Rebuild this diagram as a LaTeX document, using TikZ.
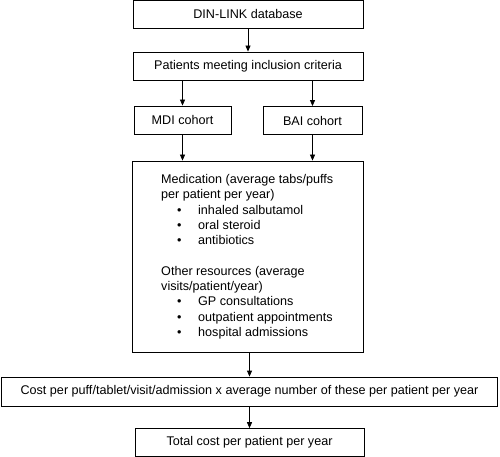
\documentclass[tikz,border=0pt]{standalone}
\usepackage{fontspec}
\setmainfont{Liberation Sans}
\usetikzlibrary{arrows.meta}
\begin{document}
\begin{tikzpicture}[x=1pt,y=-1pt,
  box/.style={draw, line width=0.8pt, inner sep=0pt, font=\fontsize{12.6}{15.3}\selectfont},
  arr/.style={line width=0.8pt, -{Triangle[length=6pt,width=5pt]}},
  txt/.style={inner sep=0pt, align=left, anchor=base west, font=\fontsize{12.6}{15.3}\selectfont}]
\useasboundingbox (0,0) rectangle (500,457);
\node[box, minimum width=230pt, minimum height=28pt] (db) at (248,14.4) {DIN-LINK database};
\node[box, minimum width=230pt, minimum height=28pt] (pat) at (248,66) {Patients meeting inclusion criteria};
\node[box, minimum width=97pt, minimum height=28pt] (mdi) at (182.5,120) {MDI cohort};
\node[box, minimum width=99pt, minimum height=28pt] (bai) at (312.5,120.5) {BAI cohort};
\node[box, minimum width=231pt, minimum height=191pt] (big) at (247.5,256.5) {};
\node[txt] (list) at (161,336.5) {Medication (average tabs/puffs\\
per patient per year)\\
\hspace*{16pt}\makebox[21pt][l]{\textbullet}inhaled salbutamol\\
\hspace*{16pt}\makebox[21pt][l]{\textbullet}oral steroid\\
\hspace*{16pt}\makebox[21pt][l]{\textbullet}antibiotics\\[15.3pt]
Other resources (average\\
visits/patient/year)\\
\hspace*{16pt}\makebox[21pt][l]{\textbullet}GP consultations\\
\hspace*{16pt}\makebox[21pt][l]{\textbullet}outpatient appointments\\
\hspace*{16pt}\makebox[21pt][l]{\textbullet}hospital admissions};
\node[box, minimum width=496pt, minimum height=29pt] (cost) at (249.5,391.5) {Cost per puff/tablet/visit/admission x average number of these per patient per year};
\node[box, minimum width=229pt, minimum height=28pt] (tot) at (249.5,442.6) {Total cost per patient per year};
\draw[arr] (db.south) -- (pat.north);
\draw[arr] (pat.south -| mdi.north) -- (mdi.north);
\draw[arr] (pat.south -| bai.north) -- (bai.north);
\draw[arr] (mdi.south) -- (mdi.south |- big.north);
\draw[arr] (bai.south) -- (bai.south |- big.north);
\draw[arr] (big.south -| cost.north) -- (cost.north);
\draw[arr] (cost.south) -- (tot.north);
\end{tikzpicture}
\end{document}
